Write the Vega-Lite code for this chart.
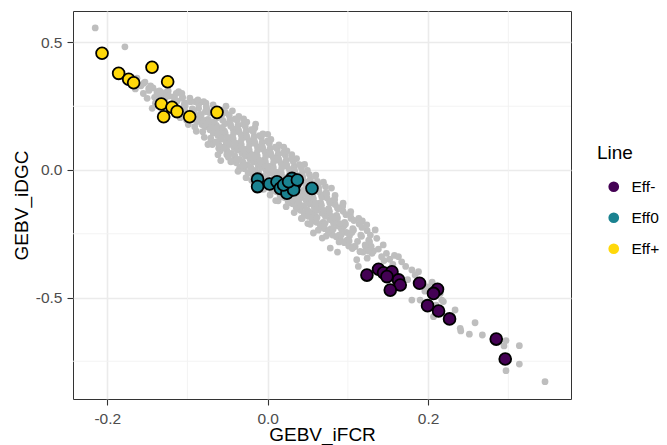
{
"$schema": "https://vega.github.io/schema/vega-lite/v6.json",
"autosize": {"type": "none"},
"width": 498,
"height": 388,
"padding": {"left": 73, "top": 11, "right": 96, "bottom": 46},
"background": "white",
"datasets": {
"gx": [{"x": -0.1}, {"x": 0.1}, {"x": 0.3}],
"gy": [{"y": 0.25}, {"y": -0.25}, {"y": -0.75}],
"bg": [
{"x":-0.215,"y":0.557},{"x":-0.178,"y":0.483},
{"x":-0.1546,"y":0.34},{"x":-0.1483,"y":0.32},{"x":-0.1503,"y":0.281},{"x":-0.1379,"y":0.307},{"x":-0.1316,"y":0.294},{"x":-0.1254,"y":0.307},{"x":-0.1172,"y":0.287},{"x":-0.1067,"y":0.281},{"x":-0.1026,"y":0.262},{"x":-0.0902,"y":0.268},{"x":-0.0798,"y":0.268},{"x":-0.0861,"y":0.242},{"x":-0.0777,"y":0.229},{"x":-0.1026,"y":0.229},{"x":-0.0902,"y":0.196},{"x":-0.0818,"y":0.183},{"x":-0.0756,"y":0.196},{"x":-0.14,"y":0.262},{"x":-0.144,"y":0.242},{"x":-0.111,"y":0.307},
{"x":-0.163,"y":0.36},{"x":-0.158,"y":0.33},{"x":-0.165,"y":0.318},
{"x":-0.153,"y":0.345},{"x":-0.148,"y":0.312},{"x":-0.146,"y":0.33},{"x":-0.155,"y":0.3},
{"x":-0.143,"y":0.322},{"x":-0.138,"y":0.298},{"x":-0.135,"y":0.31},{"x":-0.141,"y":0.285},{"x":-0.137,"y":0.276},
{"x":-0.133,"y":0.305},{"x":-0.128,"y":0.28},{"x":-0.126,"y":0.296},{"x":-0.131,"y":0.268},{"x":-0.124,"y":0.31},
{"x":-0.123,"y":0.29},{"x":-0.118,"y":0.262},{"x":-0.116,"y":0.28},{"x":-0.121,"y":0.245},{"x":-0.114,"y":0.3},{"x":-0.119,"y":0.232},{"x":-0.115,"y":0.255},
{"x":-0.113,"y":0.27},{"x":-0.108,"y":0.24},{"x":-0.106,"y":0.285},{"x":-0.111,"y":0.22},{"x":-0.104,"y":0.258},{"x":-0.109,"y":0.205},{"x":-0.105,"y":0.232},{"x":-0.107,"y":0.3},
{"x":-0.103,"y":0.25},{"x":-0.098,"y":0.215},{"x":-0.096,"y":0.268},{"x":-0.101,"y":0.195},{"x":-0.094,"y":0.24},{"x":-0.099,"y":0.178},{"x":-0.095,"y":0.205},{"x":-0.097,"y":0.282},{"x":-0.092,"y":0.228},
{"x":-0.093,"y":0.235},{"x":-0.088,"y":0.19},{"x":-0.086,"y":0.258},{"x":-0.091,"y":0.17},{"x":-0.084,"y":0.218},{"x":-0.089,"y":0.152},{"x":-0.085,"y":0.2},{"x":-0.087,"y":0.275},{"x":-0.082,"y":0.178},{"x":-0.09,"y":0.215},
{"x":-0.083,"y":0.215},{"x":-0.078,"y":0.17},{"x":-0.076,"y":0.24},{"x":-0.081,"y":0.15},{"x":-0.074,"y":0.198},{"x":-0.079,"y":0.128},{"x":-0.075,"y":0.18},{"x":-0.077,"y":0.262},{"x":-0.072,"y":0.158},{"x":-0.08,"y":0.195},{"x":-0.073,"y":0.225},{"x":-0.071,"y":0.11},
{"x":-0.073,"y":0.19},{"x":-0.068,"y":0.145},{"x":-0.066,"y":0.218},{"x":-0.071,"y":0.125},{"x":-0.064,"y":0.175},{"x":-0.069,"y":0.1},{"x":-0.065,"y":0.158},{"x":-0.067,"y":0.24},{"x":-0.062,"y":0.135},{"x":-0.07,"y":0.172},{"x":-0.063,"y":0.205},{"x":-0.061,"y":0.085},{"x":-0.068,"y":0.255},
{"x":-0.063,"y":0.168},{"x":-0.058,"y":0.122},{"x":-0.056,"y":0.195},{"x":-0.061,"y":0.1},{"x":-0.054,"y":0.152},{"x":-0.059,"y":0.075},{"x":-0.055,"y":0.135},{"x":-0.057,"y":0.218},{"x":-0.052,"y":0.11},{"x":-0.06,"y":0.15},{"x":-0.053,"y":0.182},{"x":-0.051,"y":0.06},{"x":-0.058,"y":0.235},{"x":-0.055,"y":0.09},
{"x":-0.053,"y":0.145},{"x":-0.048,"y":0.1},{"x":-0.046,"y":0.172},{"x":-0.051,"y":0.078},{"x":-0.044,"y":0.13},{"x":-0.049,"y":0.05},{"x":-0.045,"y":0.112},{"x":-0.047,"y":0.198},{"x":-0.042,"y":0.088},{"x":-0.05,"y":0.128},{"x":-0.043,"y":0.16},{"x":-0.041,"y":0.035},{"x":-0.048,"y":0.215},{"x":-0.045,"y":0.065},{"x":-0.044,"y":0.232},
{"x":-0.043,"y":0.122},{"x":-0.038,"y":0.078},{"x":-0.036,"y":0.15},{"x":-0.041,"y":0.055},{"x":-0.034,"y":0.108},{"x":-0.039,"y":0.028},{"x":-0.035,"y":0.09},{"x":-0.037,"y":0.175},{"x":-0.032,"y":0.065},{"x":-0.04,"y":0.105},{"x":-0.033,"y":0.138},{"x":-0.031,"y":0.012},{"x":-0.038,"y":0.195},{"x":-0.035,"y":0.042},{"x":-0.036,"y":0.21},{"x":-0.032,"y":0.085},
{"x":-0.033,"y":0.1},{"x":-0.028,"y":0.055},{"x":-0.026,"y":0.128},{"x":-0.031,"y":0.032},{"x":-0.024,"y":0.085},{"x":-0.029,"y":0.005},{"x":-0.025,"y":0.068},{"x":-0.027,"y":0.152},{"x":-0.022,"y":0.042},{"x":-0.03,"y":0.082},{"x":-0.023,"y":0.115},{"x":-0.021,"y":-0.01},{"x":-0.028,"y":0.172},{"x":-0.025,"y":0.02},{"x":-0.026,"y":0.188},{"x":-0.022,"y":0.062},
{"x":-0.023,"y":0.078},{"x":-0.018,"y":0.032},{"x":-0.016,"y":0.105},{"x":-0.021,"y":0.01},{"x":-0.014,"y":0.062},{"x":-0.019,"y":-0.018},{"x":-0.015,"y":0.045},{"x":-0.017,"y":0.13},{"x":-0.012,"y":0.02},{"x":-0.02,"y":0.06},{"x":-0.013,"y":0.092},{"x":-0.011,"y":-0.035},{"x":-0.018,"y":0.15},{"x":-0.015,"y":-0.002},{"x":-0.016,"y":0.165},{"x":-0.012,"y":0.04},
{"x":-0.013,"y":0.055},{"x":-0.008,"y":0.01},{"x":-0.006,"y":0.082},{"x":-0.011,"y":-0.012},{"x":-0.004,"y":0.04},{"x":-0.009,"y":-0.04},{"x":-0.005,"y":0.022},{"x":-0.007,"y":0.108},{"x":-0.002,"y":-0.002},{"x":-0.01,"y":0.038},{"x":-0.003,"y":0.07},{"x":-0.001,"y":-0.058},{"x":-0.008,"y":0.128},{"x":-0.005,"y":-0.025},{"x":-0.006,"y":0.142},{"x":-0.002,"y":0.018},
{"x":-0.003,"y":0.032},{"x":0.002,"y":-0.012},{"x":0.004,"y":0.06},{"x":-0.001,"y":-0.035},{"x":0.006,"y":0.018},{"x":0.001,"y":-0.062},{"x":0.005,"y":0.0},{"x":0.003,"y":0.085},{"x":0.008,"y":-0.025},{"x":0.0,"y":0.015},{"x":0.007,"y":0.048},{"x":0.009,"y":-0.08},{"x":0.002,"y":0.105},{"x":0.005,"y":-0.048},{"x":0.004,"y":0.12},{"x":0.008,"y":-0.005},
{"x":0.007,"y":0.01},{"x":0.012,"y":-0.035},{"x":0.014,"y":0.038},{"x":0.009,"y":-0.058},{"x":0.016,"y":-0.005},{"x":0.011,"y":-0.085},{"x":0.015,"y":-0.022},{"x":0.013,"y":0.062},{"x":0.018,"y":-0.048},{"x":0.01,"y":-0.008},{"x":0.017,"y":0.025},{"x":0.019,"y":-0.105},{"x":0.012,"y":0.082},{"x":0.015,"y":-0.07},{"x":0.014,"y":0.098},{"x":0.018,"y":-0.028},
{"x":0.017,"y":-0.012},{"x":0.022,"y":-0.058},{"x":0.024,"y":0.015},{"x":0.019,"y":-0.08},{"x":0.026,"y":-0.028},{"x":0.021,"y":-0.108},{"x":0.025,"y":-0.045},{"x":0.023,"y":0.038},{"x":0.028,"y":-0.07},{"x":0.02,"y":-0.03},{"x":0.027,"y":0.002},{"x":0.029,"y":-0.128},{"x":0.022,"y":0.058},{"x":0.025,"y":-0.092},{"x":0.024,"y":0.075},{"x":0.028,"y":-0.05},
{"x":0.027,"y":-0.038},{"x":0.032,"y":-0.082},{"x":0.034,"y":-0.01},{"x":0.029,"y":-0.105},{"x":0.036,"y":-0.052},{"x":0.031,"y":-0.132},{"x":0.035,"y":-0.07},{"x":0.033,"y":0.012},{"x":0.038,"y":-0.095},{"x":0.03,"y":-0.055},{"x":0.037,"y":-0.022},{"x":0.039,"y":-0.152},{"x":0.032,"y":0.032},{"x":0.035,"y":-0.118},{"x":0.036,"y":0.045},
{"x":0.037,"y":-0.062},{"x":0.042,"y":-0.108},{"x":0.044,"y":-0.035},{"x":0.039,"y":-0.13},{"x":0.046,"y":-0.078},{"x":0.041,"y":-0.158},{"x":0.045,"y":-0.095},{"x":0.043,"y":-0.012},{"x":0.048,"y":-0.12},{"x":0.04,"y":-0.08},{"x":0.047,"y":-0.048},{"x":0.049,"y":-0.178},{"x":0.042,"y":0.008},{"x":0.045,"y":-0.142},{"x":0.046,"y":0.022},
{"x":0.047,"y":-0.088},{"x":0.052,"y":-0.132},{"x":0.054,"y":-0.06},{"x":0.049,"y":-0.155},{"x":0.056,"y":-0.102},{"x":0.051,"y":-0.182},{"x":0.055,"y":-0.12},{"x":0.053,"y":-0.038},{"x":0.058,"y":-0.145},{"x":0.05,"y":-0.105},{"x":0.057,"y":-0.072},{"x":0.059,"y":-0.2},{"x":0.052,"y":-0.018},{"x":0.055,"y":-0.168},
{"x":0.057,"y":-0.112},{"x":0.062,"y":-0.158},{"x":0.064,"y":-0.085},{"x":0.059,"y":-0.18},{"x":0.066,"y":-0.128},{"x":0.061,"y":-0.205},{"x":0.065,"y":-0.145},{"x":0.063,"y":-0.062},{"x":0.068,"y":-0.17},{"x":0.06,"y":-0.13},{"x":0.067,"y":-0.098},{"x":0.069,"y":-0.225},{"x":0.062,"y":-0.045},
{"x":0.067,"y":-0.138},{"x":0.072,"y":-0.182},{"x":0.074,"y":-0.11},{"x":0.069,"y":-0.205},{"x":0.076,"y":-0.152},{"x":0.071,"y":-0.23},{"x":0.075,"y":-0.17},{"x":0.073,"y":-0.088},{"x":0.078,"y":-0.195},{"x":0.07,"y":-0.158},{"x":0.077,"y":-0.122},{"x":0.079,"y":-0.248},
{"x":0.077,"y":-0.162},{"x":0.082,"y":-0.208},{"x":0.084,"y":-0.135},{"x":0.079,"y":-0.23},{"x":0.086,"y":-0.178},{"x":0.081,"y":-0.255},{"x":0.085,"y":-0.195},{"x":0.083,"y":-0.115},{"x":0.088,"y":-0.22},{"x":0.08,"y":-0.182},{"x":0.087,"y":-0.148},
{"x":0.087,"y":-0.188},{"x":0.092,"y":-0.232},{"x":0.094,"y":-0.162},{"x":0.089,"y":-0.255},{"x":0.096,"y":-0.205},{"x":0.091,"y":-0.275},{"x":0.095,"y":-0.22},{"x":0.093,"y":-0.145},{"x":0.098,"y":-0.245},{"x":0.09,"y":-0.21},
{"x":0.097,"y":-0.212},{"x":0.102,"y":-0.258},{"x":0.104,"y":-0.19},{"x":0.099,"y":-0.278},{"x":0.106,"y":-0.23},{"x":0.101,"y":-0.298},{"x":0.105,"y":-0.245},{"x":0.103,"y":-0.175},
{"x":0.107,"y":-0.235},{"x":0.112,"y":-0.28},{"x":0.114,"y":-0.212},{"x":0.109,"y":-0.3},{"x":0.116,"y":-0.255},{"x":0.111,"y":-0.352},{"x":0.113,"y":-0.378},
{"x":0.117,"y":-0.26},{"x":0.122,"y":-0.3},{"x":0.124,"y":-0.238},{"x":0.119,"y":-0.322},{"x":0.126,"y":-0.275},{"x":0.124,"y":-0.346},
{"x":0.127,"y":-0.282},{"x":0.132,"y":-0.318},{"x":0.134,"y":-0.235},{"x":0.13,"y":-0.327},{"x":0.136,"y":-0.268},{"x":0.129,"y":-0.3},
{"x":0.138,"y":-0.31},{"x":0.142,"y":-0.34},{"x":0.144,"y":-0.294},{"x":0.148,"y":-0.327},{"x":0.145,"y":-0.355},
{"x":0.057,"y":-0.247},{"x":0.068,"y":-0.267},{"x":0.078,"y":-0.306},{"x":0.087,"y":-0.322},{"x":0.107,"y":-0.301},{"x":0.115,"y":-0.32},{"x":0.099,"y":-0.275},{"x":0.1215,"y":-0.294},
{"x":0.152,"y":-0.35},{"x":0.158,"y":-0.335},{"x":0.163,"y":-0.34},{"x":0.167,"y":-0.36},{"x":0.156,"y":-0.37},{"x":0.172,"y":-0.378},{"x":0.1797,"y":-0.392},{"x":0.188,"y":-0.399},{"x":0.1838,"y":-0.412},{"x":0.192,"y":-0.451},{"x":0.2,"y":-0.458},{"x":0.1797,"y":-0.51},{"x":0.19,"y":-0.51},{"x":0.215,"y":-0.484},{"x":0.217,"y":-0.51},{"x":0.1745,"y":-0.43},{"x":0.205,"y":-0.44},{"x":0.196,"y":-0.475},{"x":0.21,"y":-0.53},
{"x":0.2067,"y":-0.575},{"x":0.219,"y":-0.516},{"x":0.2336,"y":-0.549},{"x":0.2585,"y":-0.599},{"x":0.2407,"y":-0.631},{"x":0.2514,"y":-0.644},{"x":0.2676,"y":-0.647},{"x":0.2971,"y":-0.669},{"x":0.2946,"y":-0.69},{"x":0.3137,"y":-0.689},{"x":0.3137,"y":-0.761},{"x":0.2971,"y":-0.787},{"x":0.3457,"y":-0.83},{"x":0.24,"y":-0.621},
{"x":-0.062,"y":0.06},{"x":-0.046,"y":0.032},{"x":-0.035,"y":0.005},{"x":-0.02,"y":-0.04},{"x":-0.005,"y":-0.075},{"x":0.01,"y":-0.12},{"x":0.02,"y":0.09},{"x":0.03,"y":0.06},{"x":0.042,"y":-0.19},{"x":0.05,"y":-0.21},{"x":0.06,"y":-0.02},{"x":0.072,"y":-0.065},{"x":0.084,"y":-0.1},{"x":0.094,"y":-0.13},{"x":-0.03,"y":0.2},{"x":-0.015,"y":0.18},{"x":0.0,"y":0.14},{"x":-0.052,"y":0.25},{"x":0.118,"y":-0.2},{"x":0.128,"y":-0.255},
{"x":-0.0765,"y":0.247},{"x":-0.0745,"y":0.1},
{"x":-0.0665,"y":0.19},{"x":-0.0645,"y":0.11},{"x":-0.0605,"y":0.228},
{"x":-0.0565,"y":0.167},{"x":-0.0545,"y":0.087},{"x":-0.0525,"y":0.225},{"x":-0.0585,"y":0.037},
{"x":-0.0465,"y":0.18},{"x":-0.0445,"y":0.035},{"x":-0.0425,"y":0.145},{"x":-0.0485,"y":0.065},{"x":-0.0405,"y":0.2},
{"x":-0.0365,"y":0.157},{"x":-0.0345,"y":0.012},{"x":-0.0325,"y":0.122},{"x":-0.0385,"y":0.042},{"x":-0.0305,"y":0.18},{"x":-0.037,"y":-0.005},
{"x":-0.0265,"y":0.135},{"x":-0.0245,"y":-0.01},{"x":-0.0225,"y":0.1},{"x":-0.0285,"y":0.02},{"x":-0.0205,"y":0.158},{"x":-0.027,"y":-0.03},
{"x":-0.0165,"y":0.112},{"x":-0.0145,"y":-0.033},{"x":-0.0125,"y":0.077},{"x":-0.0185,"y":-0.003},{"x":-0.0105,"y":0.135},{"x":-0.017,"y":-0.053},
{"x":-0.0065,"y":0.09},{"x":-0.0045,"y":-0.055},{"x":-0.0025,"y":0.055},{"x":-0.0085,"y":-0.025},{"x":-0.0005,"y":0.113},{"x":-0.007,"y":-0.075},
{"x":0.0035,"y":0.067},{"x":0.0055,"y":-0.078},{"x":0.0075,"y":0.032},{"x":0.0015,"y":-0.048},{"x":0.0095,"y":0.09},{"x":0.003,"y":-0.098},
{"x":0.0135,"y":0.044},{"x":0.0155,"y":-0.101},{"x":0.0175,"y":0.009},{"x":0.0115,"y":-0.071},{"x":0.0195,"y":0.067},{"x":0.013,"y":-0.121},
{"x":0.0235,"y":0.021},{"x":0.0255,"y":-0.124},{"x":0.0275,"y":-0.014},{"x":0.0215,"y":-0.094},{"x":0.0295,"y":0.044},{"x":0.023,"y":-0.144},
{"x":0.0335,"y":-0.002},{"x":0.0355,"y":-0.147},{"x":0.0375,"y":-0.037},{"x":0.0315,"y":-0.117},{"x":0.0395,"y":0.021},{"x":0.033,"y":-0.167},
{"x":0.0435,"y":-0.025},{"x":0.0455,"y":-0.17},{"x":0.0475,"y":-0.06},{"x":0.0415,"y":-0.14},{"x":0.0495,"y":-0.002},{"x":0.043,"y":-0.19},
{"x":0.0535,"y":-0.048},{"x":0.0555,"y":-0.193},{"x":0.0575,"y":-0.083},{"x":0.0515,"y":-0.163},{"x":0.0595,"y":-0.025},{"x":0.053,"y":-0.213},
{"x":0.0635,"y":-0.071},{"x":0.0655,"y":-0.216},{"x":0.0675,"y":-0.106},{"x":0.0615,"y":-0.186},{"x":0.0695,"y":-0.048},{"x":0.063,"y":-0.236},
{"x":0.0735,"y":-0.094},{"x":0.0755,"y":-0.239},{"x":0.0775,"y":-0.129},{"x":0.0715,"y":-0.209},{"x":0.0795,"y":-0.071},{"x":0.073,"y":-0.259},
{"x":0.0835,"y":-0.117},{"x":0.0855,"y":-0.262},{"x":0.0875,"y":-0.152},{"x":0.0815,"y":-0.232},{"x":0.089,"y":-0.282},
{"x":0.0935,"y":-0.14},{"x":0.0955,"y":-0.285},{"x":0.0975,"y":-0.175},{"x":0.0915,"y":-0.255},
{"x":0.1035,"y":-0.163},{"x":0.1055,"y":-0.308},{"x":0.1075,"y":-0.198},{"x":0.1015,"y":-0.278},
{"x":0.1135,"y":-0.19},{"x":0.1155,"y":-0.32},{"x":0.1175,"y":-0.225},
{"x":0.1235,"y":-0.215},{"x":0.1255,"y":-0.318}
],
"sel": [
{"x":-0.2065,"y":0.458,"Line":"Eff+"},{"x":-0.1858,"y":0.379,"Line":"Eff+"},{"x":-0.1733,"y":0.356,"Line":"Eff+"},{"x":-0.1671,"y":0.342,"Line":"Eff+"},{"x":-0.1442,"y":0.403,"Line":"Eff+"},{"x":-0.1247,"y":0.346,"Line":"Eff+"},{"x":-0.1326,"y":0.259,"Line":"Eff+"},{"x":-0.1193,"y":0.246,"Line":"Eff+"},{"x":-0.113,"y":0.229,"Line":"Eff+"},{"x":-0.1297,"y":0.209,"Line":"Eff+"},{"x":-0.0973,"y":0.209,"Line":"Eff+"},{"x":-0.0632,"y":0.226,"Line":"Eff+"},
{"x":-0.0126,"y":-0.036,"Line":"Eff0"},{"x":-0.0126,"y":-0.065,"Line":"Eff0"},{"x":0.0024,"y":-0.055,"Line":"Eff0"},{"x":0.0116,"y":-0.046,"Line":"Eff0"},{"x":0.0157,"y":-0.072,"Line":"Eff0"},{"x":0.024,"y":-0.091,"Line":"Eff0"},{"x":0.0303,"y":-0.033,"Line":"Eff0"},{"x":0.0344,"y":-0.052,"Line":"Eff0"},{"x":0.0323,"y":-0.078,"Line":"Eff0"},{"x":0.0552,"y":-0.072,"Line":"Eff0"},{"x":0.0198,"y":-0.059,"Line":"Eff0"},{"x":0.026,"y":-0.046,"Line":"Eff0"},{"x":0.037,"y":-0.039,"Line":"Eff0"},
{"x":0.1237,"y":-0.412,"Line":"Eff-"},{"x":0.1382,"y":-0.389,"Line":"Eff-"},{"x":0.1444,"y":-0.403,"Line":"Eff-"},{"x":0.1549,"y":-0.399,"Line":"Eff-"},{"x":0.1631,"y":-0.431,"Line":"Eff-"},{"x":0.1652,"y":-0.451,"Line":"Eff-"},{"x":0.1528,"y":-0.471,"Line":"Eff-"},{"x":0.1487,"y":-0.418,"Line":"Eff-"},{"x":0.1893,"y":-0.444,"Line":"Eff-"},{"x":0.2117,"y":-0.468,"Line":"Eff-"},{"x":0.2067,"y":-0.484,"Line":"Eff-"},{"x":0.1993,"y":-0.532,"Line":"Eff-"},{"x":0.213,"y":-0.553,"Line":"Eff-"},{"x":0.2267,"y":-0.584,"Line":"Eff-"},{"x":0.2849,"y":-0.663,"Line":"Eff-"},{"x":0.2961,"y":-0.741,"Line":"Eff-"}
]
},
"layer": [
{
"data": {"name": "gx"},
"mark": {"type": "rule", "color": "#F2F2F2", "strokeWidth": 0.9},
"encoding": {
"x": {"field": "x", "type": "quantitative", "title": "GEBV_iFCR", "scale": {"domain": [-0.2427, 0.3781], "nice": false, "zero": false}, "axis": {"values": [-0.2, 0, 0.2], "labelExpr": "replace(format(datum.value, '.1f'), '\u2212', '-')"}}
}
},
{
"data": {"name": "gy"},
"mark": {"type": "rule", "color": "#F2F2F2", "strokeWidth": 0.9},
"encoding": {
"y": {"field": "y", "type": "quantitative", "title": "GEBV_iDGC", "scale": {"domain": [-0.898, 0.6235], "nice": false, "zero": false}, "axis": {"values": [-0.5, 0, 0.5], "labelExpr": "replace(format(datum.value, '.1f'), '\u2212', '-')"}}
}
},
{
"data": {"name": "bg"},
"mark": {"type": "circle", "color": "#BEBEBE", "size": 46, "opacity": 1},
"encoding": {
"x": {"field": "x", "type": "quantitative", "title": "GEBV_iFCR", "scale": {"domain": [-0.2427, 0.3781], "nice": false, "zero": false}, "axis": {"values": [-0.2, 0, 0.2], "labelExpr": "replace(format(datum.value, '.1f'), '\u2212', '-')"}},
"y": {"field": "y", "type": "quantitative", "title": "GEBV_iDGC", "scale": {"domain": [-0.898, 0.6235], "nice": false, "zero": false}, "axis": {"values": [-0.5, 0, 0.5], "labelExpr": "replace(format(datum.value, '.1f'), '\u2212', '-')"}}
}
},
{
"data": {"name": "sel"},
"mark": {"type": "point", "filled": true, "size": 140, "stroke": "#000000", "strokeWidth": 1.8, "opacity": 1},
"encoding": {
"x": {"field": "x", "type": "quantitative", "title": "GEBV_iFCR", "scale": {"domain": [-0.2427, 0.3781], "nice": false, "zero": false}, "axis": {"values": [-0.2, 0, 0.2], "labelExpr": "replace(format(datum.value, '.1f'), '\u2212', '-')"}},
"y": {"field": "y", "type": "quantitative", "title": "GEBV_iDGC", "scale": {"domain": [-0.898, 0.6235], "nice": false, "zero": false}, "axis": {"values": [-0.5, 0, 0.5], "labelExpr": "replace(format(datum.value, '.1f'), '\u2212', '-')"}},
"fill": {"field": "Line", "type": "nominal", "title": "Line", "scale": {"domain": ["Eff-", "Eff0", "Eff+"], "range": ["#440154", "#1A8290", "#FFD80A"]},
"legend": {"orient": "none", "legendX": 524, "legendY": 133, "symbolType": "circle", "symbolSize": 115, "symbolStrokeWidth": 0, "rowPadding": 14, "titlePadding": 16, "symbolOffset": 9, "labelOffset": 10, "padding": 0}}
}
}
],
"config": {
"font": "Liberation Sans",
"view": {"stroke": "#333333", "strokeWidth": 1},
"axis": {"domain": false, "grid": true, "gridColor": "#EBEBEB", "gridWidth": 1.6, "tickColor": "#333333", "tickSize": 6, "tickWidth": 1.1, "labelColor": "#4D4D4D", "labelFontSize": 15.5, "labelFont": "Liberation Sans", "titleFont": "Liberation Sans", "titleFontSize": 19, "titleFontWeight": "normal", "titleColor": "#000000", "labelPadding": 5},
"axisX": {"labelPadding": 6, "titlePadding": -1},
"axisY": {"titlePadding": 4},
"legend": {"titleFont": "Liberation Sans", "labelFont": "Liberation Sans", "titleFontSize": 19, "titleFontWeight": "normal", "titleColor": "#000000", "labelFontSize": 15.5, "labelColor": "#000000"}
}
}
